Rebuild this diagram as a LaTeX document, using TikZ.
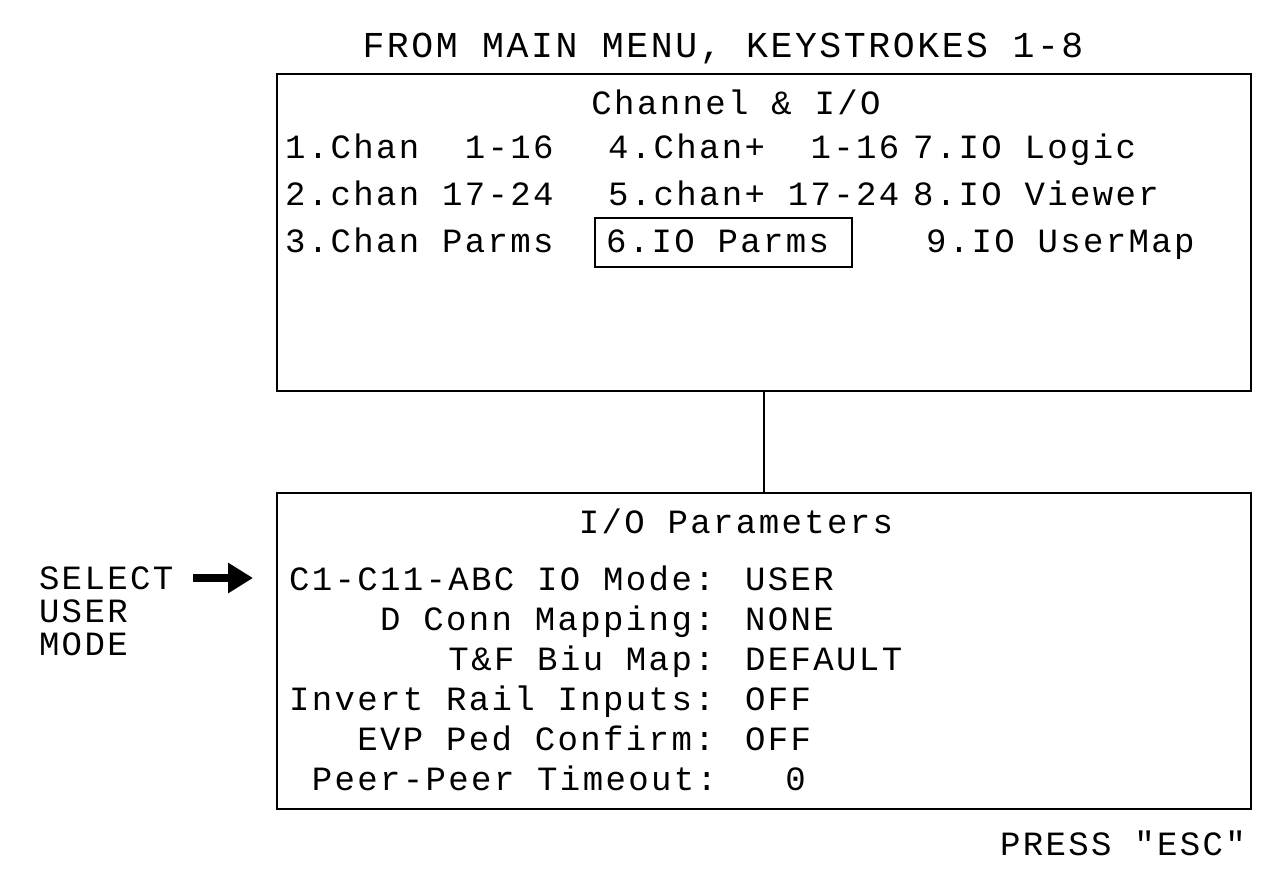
\documentclass[tikz,border=0pt]{standalone}
\usepackage{fontspec}
\usetikzlibrary{arrows.meta}
\newfontfamily\cadfont[LetterSpace=7]{Liberation Mono}
\tikzset{
  txt/.style={font=\cadfont\fontsize{34}{40}\selectfont, inner sep=0pt, outer sep=0pt, anchor=base west},
  ctxt/.style={txt, anchor=base},
  panel/.style={draw, line width=1.5pt, inner sep=0pt, outer sep=0pt},
  link/.style={line width=1.5pt},
  bigarrow/.style={line width=8pt, -{Triangle[length=25pt,width=29pt]}}
}
\begin{document}
\begin{tikzpicture}[x=1pt,y=-1pt]
\useasboundingbox (0,0) rectangle (1273,889);
% title
\node[ctxt, font=\cadfont\fontsize{36.5}{40}\selectfont] (title) at (723,57) {FROM MAIN MENU, KEYSTROKES 1-8};
% top panel
\node[panel, minimum width=974pt, minimum height=317pt] (menu) at (764,232.5) {};
\node[ctxt] (menuhead) at (736,114) {Channel \& I/O};
\node[txt] (m1) at (285,158) {1.Chan~~1-16};
\node[txt] (m4) at (608,158) {4.Chan+~~1-16};
\node[txt] (m7) at (913,158) {7.IO Logic};
\node[txt] (m2) at (285,205) {2.chan 17-24};
\node[txt] (m5) at (608,205) {5.chan+ 17-24};
\node[txt] (m8) at (913,205) {8.IO Viewer};
\node[txt] (m3) at (285,252) {3.Chan Parms};
\node[panel, minimum width=257pt, minimum height=49pt] (sel) at (723.5,242.5) {};
\node[txt] (m6) at (606,252) {6.IO Parms};
\node[txt] (m9) at (926,252) {9.IO UserMap};
% bottom panel
\node[panel, minimum width=974pt, minimum height=316pt] (params) at (764,651) {};
\draw[link] (menu.south) -- (params.north);
\node[ctxt] (parhead) at (736,533) {I/O Parameters};
\node[txt] (l1) at (289,590) {C1-C11-ABC IO Mode: USER};
\node[txt] (l2) at (289,630) {~~~~D Conn Mapping: NONE};
\node[txt] (l3) at (289,670) {~~~~~~~T\&F Biu Map: DEFAULT};
\node[txt] (l4) at (289,710) {Invert Rail Inputs: OFF};
\node[txt] (l5) at (289,750) {~~~EVP Ped Confirm: OFF};
\node[txt] (l6) at (289,790) {~Peer-Peer Timeout:~~~0};
% side note
\node[txt] (s1) at (39,589) {SELECT};
\node[txt] (s2) at (39,622) {USER};
\node[txt] (s3) at (39,655) {MODE};
\coordinate (arrtail) at (193,578);
\coordinate (arrhead) at (253,578);
\draw[bigarrow] (arrtail) -- (arrhead);
% footer
\node[txt] (esc) at (1000,855) {PRESS "ESC"};
\end{tikzpicture}
\end{document}
